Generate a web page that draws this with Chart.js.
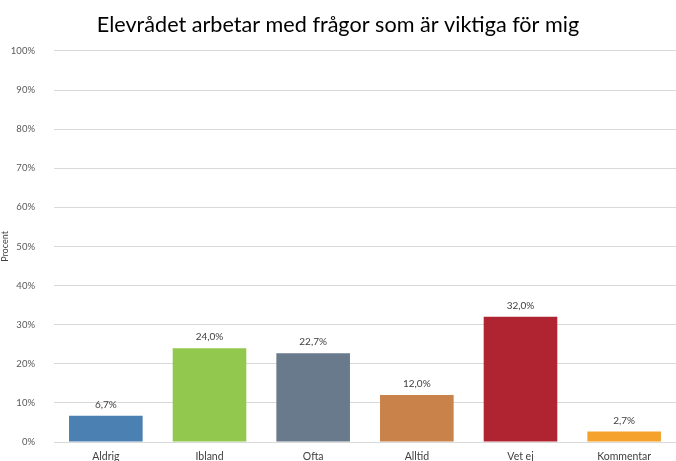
<!DOCTYPE html>
<html><head><meta charset="utf-8">
<script src="https://cdn.jsdelivr.net/npm/chart.js@4/dist/chart.umd.min.js"></script>
<style>html,body{margin:0;padding:0;background:#fff}#wrap{width:676px;height:461px}</style>
</head><body><div id="wrap"><canvas id="c" width="676" height="461"></canvas></div>
<script>
const chartTitle = "Elevrådet arbetar med frågor som är viktiga för mig";
const categories = ["Aldrig", "Ibland", "Ofta", "Alltid", "Vet ej", "Kommentar"];
const values = [6.7, 24.0, 22.7, 12.0, 32.0, 2.7];
const barColors = ["#4A80B2", "#92C84E", "#687A8B", "#C9824A", "#AF2430", "#F5A22C"];
const yTicks = [0, 10, 20, 30, 40, 50, 60, 70, 80, 90, 100];
const yTitle = "Procent";

const FONT = "Lato";
const fmt = v => v.toFixed(1).replace(".", ",") + "%";

const labelPlugin = {
  id: "barLabels",
  afterDatasetsDraw(chart) {
    const ctx = chart.ctx;
    const meta = chart.getDatasetMeta(0);
    ctx.save();
    ctx.font = "10px " + FONT;
    ctx.fillStyle = "#404040";
    ctx.textAlign = "center";
    ctx.textBaseline = "bottom";
    meta.data.forEach((bar, i) => {
      ctx.fillText(fmt(values[i]), bar.x, bar.y - 6);
    });
    ctx.restore();
  }
};

new Chart(document.getElementById("c"), {
  type: "bar",
  data: {
    labels: categories,
    datasets: [{
      data: values,
      backgroundColor: barColors,
      barPercentage: 0.71,
      categoryPercentage: 1.0
    }]
  },
  options: {
    responsive: false,
    animation: false,
    devicePixelRatio: 1,
    layout: { padding: { left: 0, right: 0, top: 0, bottom: 0 } },
    plugins: {
      legend: { display: false },
      tooltip: { enabled: false },
      title: {
        display: true,
        text: chartTitle,
        color: "#000000",
        font: { family: FONT, size: 21.6, weight: "normal" },
        padding: { top: 12, bottom: 13 }
      }
    },
    scales: {
      x: {
        grid: { display: false, drawTicks: false },
        border: { display: true, color: "#D9D9D9", width: 1 },
        ticks: { color: "#404040", font: { family: FONT, size: 10.5 }, padding: 8, maxRotation: 0 },
        afterFit(s) { s.height = 19; s.paddingLeft = 0; s.paddingRight = 0; }
      },
      y: {
        min: 0, max: 100,
        afterBuildTicks(s) { s.ticks = yTicks.map(v => ({ value: v })); },
        grid: { color: "#D9D9D9", drawTicks: false },
        border: { display: false },
        ticks: {
          color: "#595959",
          font: { family: FONT, size: 9.5 },
          padding: 19,
          callback: v => v + "%"
        },
        title: {
          display: true,
          text: yTitle,
          color: "#404040",
          font: { family: FONT, size: 9 },
          padding: { top: 0, bottom: 0 }
        },
        afterFit(s) { s.width = 54; s.paddingTop = 0; s.paddingBottom = 0; }
      }
    }
  },
  plugins: [labelPlugin]
});
</script>
</body></html>
